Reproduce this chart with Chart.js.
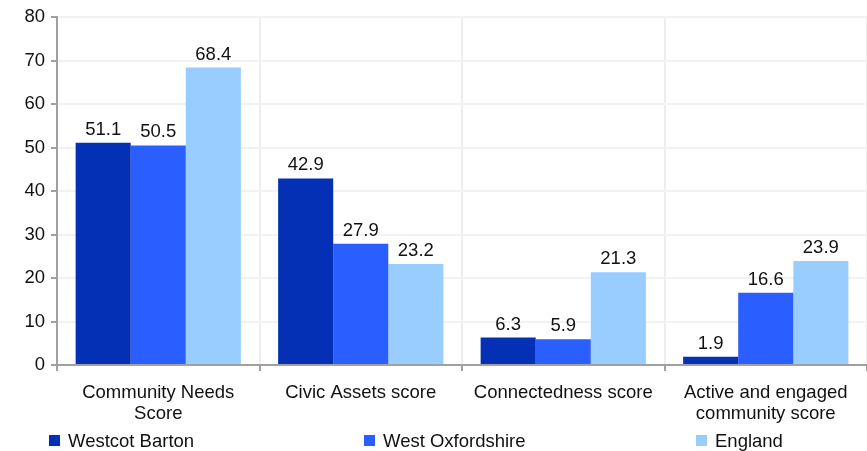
<!DOCTYPE html>
<html>
<head>
<meta charset="utf-8">
<script src="https://cdn.jsdelivr.net/npm/chart.js@4"></script>
<style>
    body { margin: 0; background: #fff; }
    #wrap { position: relative; width: 867px; height: 451px; }
    #legend { position: absolute; left: 0; top: 0; width: 867px; height: 451px; pointer-events: none; }
    .item { position: absolute; top: 430px; height: 22px; font: 18.5px 'Liberation Sans', Arial, sans-serif; color: #111; line-height: 22px; white-space: nowrap; }
    .box { position: absolute; left: 0; top: 5px; width: 11px; height: 11px; }
    .label { position: absolute; left: 19px; top: 0; }
</style>
</head>
<body>
<div id="wrap">
    <canvas id="scoreChart" width="867" height="451"></canvas>
    <div id="legend"></div>
</div>
<script>
// Data
const categories = [['Community Needs', 'Score'], 'Civic Assets score', 'Connectedness score', ['Active and engaged', 'community score']];
const seriesNames = ['Westcot Barton', 'West Oxfordshire', 'England'];
const westcotBarton = [51.1, 42.9, 6.3, 1.9];
const westOxfordshire = [50.5, 27.9, 5.9, 16.6];
const england = [68.4, 23.2, 21.3, 23.9];
const yMin = 0, yMax = 80, yStep = 10;

const colors = ['#0330b4', '#2b5eff', '#99ccff'];
const legendLeft = [49, 364, 696];
const fontFamily = "'Liberation Sans', Arial, sans-serif";

// value labels above bars
const valueLabels = {
    id: 'valueLabels',
    afterDatasetsDraw(chart) {
        const ctx = chart.ctx;
        ctx.save();
        ctx.font = '18.5px ' + fontFamily;
        ctx.fillStyle = '#111';
        ctx.textAlign = 'center';
        ctx.textBaseline = 'alphabetic';
        chart.data.datasets.forEach((ds, i) => {
            chart.getDatasetMeta(i).data.forEach((bar, j) => {
                ctx.fillText(ds.data[j].toFixed(1), bar.x, bar.y - 8);
            });
        });
        ctx.restore();
    }
};

const ctx = document.getElementById('scoreChart').getContext('2d');
const chart = new Chart(ctx, {
    type: 'bar',
    data: {
        labels: categories,
        datasets: [
            { label: seriesNames[0], data: westcotBarton, backgroundColor: colors[0] },
            { label: seriesNames[1], data: westOxfordshire, backgroundColor: colors[1] },
            { label: seriesNames[2], data: england, backgroundColor: colors[2] }
        ]
    },
    options: {
        responsive: false,
        animation: false,
        datasets: { bar: { categoryPercentage: 0.816, barPercentage: 1 } },
        layout: { padding: { top: 16, right: 0, left: 0, bottom: 0 } },
        plugins: { legend: { display: false }, tooltip: { enabled: false } },
        scales: {
            x: {
                offset: true,
                grid: {
                    offset: true,
                    color: ctx => ctx.index === categories.length ? 'rgba(0,0,0,0)' : '#eeeeee',
                    lineWidth: 2,
                    tickColor: '#a0a0a0',
                    tickLength: 6
                },
                border: { color: '#a0a0a0', width: 2 },
                ticks: {
                    color: '#111',
                    padding: 12,
                    maxRotation: 0,
                    autoSkip: false,
                    font: { family: fontFamily, size: 18.5, lineHeight: 1.12 }
                },
                afterFit(scale) { scale.height = 86; }
            },
            y: {
                min: yMin,
                max: yMax,
                ticks: {
                    stepSize: yStep,
                    color: '#111',
                    padding: 6,
                    font: { family: fontFamily, size: 18.5 }
                },
                grid: { color: '#f2f2f2', lineWidth: 2, tickColor: '#a0a0a0', tickLength: 6 },
                border: { color: '#a0a0a0', width: 2 },
                afterFit(scale) { scale.width = 57; }
            }
        }
    },
    plugins: [valueLabels]
});

// legend
const legend = document.getElementById('legend');
chart.data.datasets.forEach((ds, i) => {
    const item = document.createElement('div');
    item.className = 'item';
    item.style.left = legendLeft[i] + 'px';
    item.innerHTML = '<span class="box" style="background:' + ds.backgroundColor + '"></span><span class="label">' + ds.label + '</span>';
    legend.appendChild(item);
});
</script>
</body>
</html>
